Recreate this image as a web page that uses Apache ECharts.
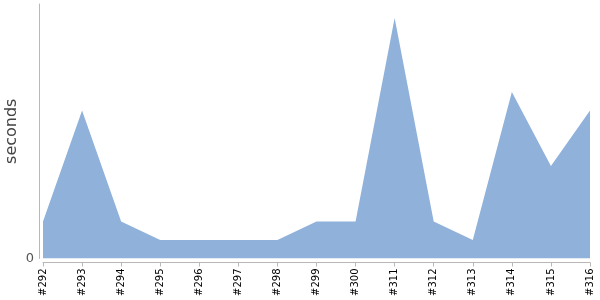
<!DOCTYPE html>
<html><head><meta charset="utf-8">
<script src="https://cdn.jsdelivr.net/npm/echarts@6/dist/echarts.min.js"></script>
<style>html,body{margin:0;padding:0;background:#fff}#c{width:600px;height:300px}</style>
</head><body><div id="c"></div>
<script>
const categories = ['#292','#293','#294','#295','#296','#297','#298','#299','#300','#311','#312','#313','#314','#315','#316'];
const seconds = [2, 8, 2, 1, 1, 1, 1, 2, 2, 13, 2, 1, 9, 5, 8];
const yMax = 13.75;

const chart = echarts.init(document.getElementById('c'), null, {renderer: 'canvas'});
chart.setOption({
  animation: false,
  grid: {left: 43, right: 10, top: 4, bottom: 41.5, containLabel: false, outerBoundsMode: 'none'},
  xAxis: {
    type: 'category', data: categories, boundaryGap: false, offset: 4,
    axisLine: {show: true, onZero: false, lineStyle: {color: '#b8b8b8', width: 1}},
    axisTick: {show: true, alignWithLabel: true, length: 4, lineStyle: {color: '#b8b8b8'}},
    axisLabel: {rotate: 90, color: '#000', fontSize: 10, fontFamily: 'DejaVu Sans', margin: 6, interval: 0},
    splitLine: {show: false}
  },
  yAxis: {
    type: 'value', min: 0, max: yMax, offset: 4,
    name: 'seconds', nameLocation: 'middle', nameGap: 19, nameMoveOverlap: false,
    nameTextStyle: {color: '#444', fontSize: 16, fontFamily: 'DejaVu Sans'},
    axisLine: {show: true, lineStyle: {color: '#b8b8b8', width: 1}},
    axisTick: {show: false},
    splitLine: {show: false},
    axisLabel: {color: '#555', fontSize: 13, fontFamily: 'DejaVu Sans', margin: 5,
      formatter: v => v === 0 ? '0' : ''}
  },
  series: [{
    type: 'line', data: seconds, symbol: 'none',
    lineStyle: {width: 0},
    itemStyle: {color: '#8fb1da'},
    areaStyle: {color: '#8fb1da', opacity: 1}
  }]
});
</script></body></html>
